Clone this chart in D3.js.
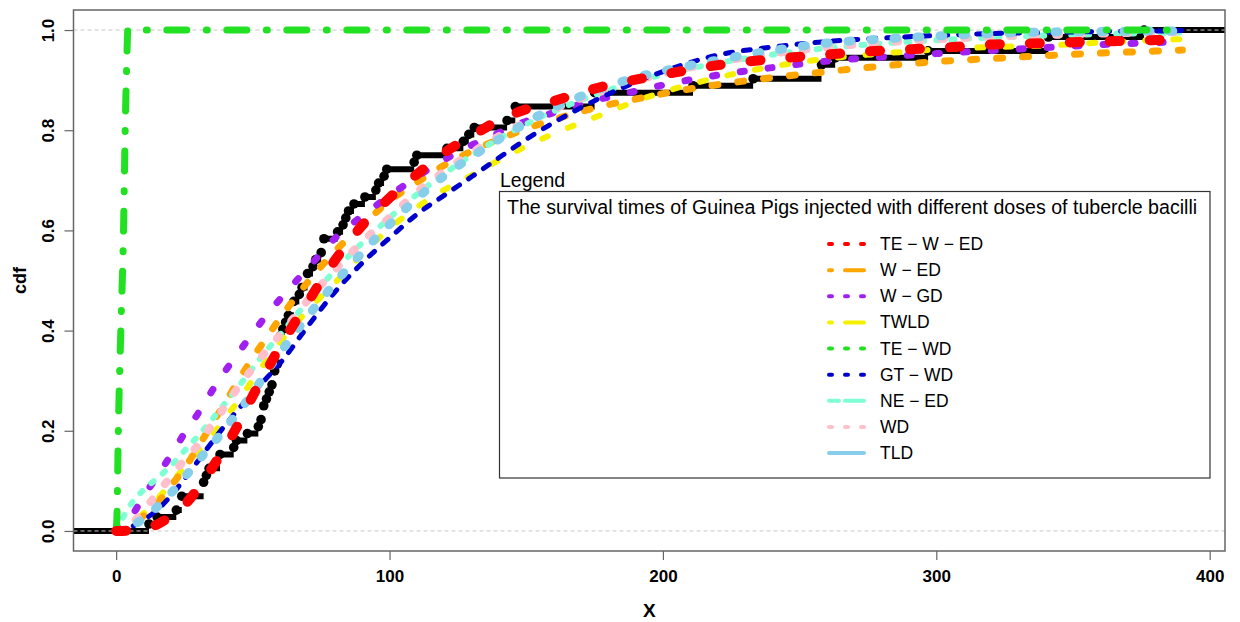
<!DOCTYPE html>
<html>
<head>
<meta charset="utf-8">
<script src="https://cdn.jsdelivr.net/npm/d3@7"></script>
<style>
body { margin: 0; background: #fff; }
text { font-family: "Liberation Sans", Arial, sans-serif; }
</style>
</head>
<body>
<div id="chart"></div>
<script>
// survival times of guinea pigs (empirical sample)
const survival = [12, 15, 22, 24, 24, 32, 32, 33, 34, 38, 38, 43, 44, 48, 52, 53, 54, 54, 55, 56, 57, 58, 58, 59, 60, 60, 60, 60, 61, 62, 63, 65, 65, 67, 68, 70, 70, 72, 73, 75, 76, 76, 81, 83, 84, 85, 87, 91, 95, 96, 98, 99, 109, 110, 121, 127, 129, 131, 143, 146, 146, 175, 175, 211, 233, 258, 258, 263, 297, 341, 341, 376];

const xGrid = [0, 5, 10, 15, 20, 25, 30, 35, 40, 45, 50, 55, 60, 70, 80, 90, 100, 110, 120, 130, 140, 150, 160, 170, 180, 190, 200, 220, 240, 260, 280, 300, 320, 340, 360, 380, 390];

const teWED = [0, 0.001, 0.005, 0.013, 0.03, 0.052, 0.085, 0.125, 0.168, 0.216, 0.27, 0.32, 0.368, 0.456, 0.54, 0.61, 0.665, 0.712, 0.755, 0.788, 0.82, 0.842, 0.858, 0.875, 0.89, 0.901, 0.911, 0.93, 0.942, 0.951, 0.959, 0.964, 0.971, 0.974, 0.977, 0.98, 0.982];
const wED = [0, 0.008, 0.03, 0.055, 0.09, 0.125, 0.168, 0.213, 0.257, 0.303, 0.346, 0.386, 0.425, 0.496, 0.558, 0.61, 0.659, 0.696, 0.73, 0.758, 0.782, 0.803, 0.821, 0.837, 0.851, 0.862, 0.873, 0.891, 0.905, 0.917, 0.928, 0.937, 0.943, 0.949, 0.954, 0.958, 0.96];
const wGD = [0, 0.025, 0.068, 0.11, 0.151, 0.195, 0.235, 0.279, 0.32, 0.358, 0.395, 0.431, 0.463, 0.524, 0.584, 0.629, 0.669, 0.707, 0.741, 0.77, 0.795, 0.818, 0.835, 0.852, 0.866, 0.878, 0.89, 0.91, 0.925, 0.938, 0.946, 0.953, 0.959, 0.965, 0.971, 0.975, 0.977];
const twld = [0, 0.01, 0.035, 0.063, 0.095, 0.127, 0.158, 0.19, 0.226, 0.262, 0.302, 0.34, 0.377, 0.44, 0.495, 0.552, 0.604, 0.646, 0.681, 0.71, 0.74, 0.768, 0.793, 0.815, 0.836, 0.858, 0.876, 0.905, 0.927, 0.943, 0.953, 0.961, 0.966, 0.969, 0.975, 0.98, 0.982];
const gtWD = [0, 0.007, 0.022, 0.042, 0.07, 0.104, 0.14, 0.177, 0.212, 0.245, 0.275, 0.305, 0.335, 0.408, 0.477, 0.535, 0.585, 0.632, 0.67, 0.707, 0.745, 0.782, 0.815, 0.845, 0.872, 0.896, 0.917, 0.95, 0.966, 0.977, 0.984, 0.989, 0.993, 0.995, 0.997, 0.998, 0.999];
const neED = [0, 0.05, 0.082, 0.105, 0.13, 0.16, 0.19, 0.222, 0.256, 0.29, 0.325, 0.36, 0.392, 0.458, 0.52, 0.575, 0.625, 0.672, 0.713, 0.75, 0.783, 0.812, 0.838, 0.86, 0.88, 0.897, 0.911, 0.934, 0.951, 0.964, 0.973, 0.98, 0.985, 0.989, 0.992, 0.994, 0.995];
const wd = [0, 0.012, 0.04, 0.075, 0.108, 0.142, 0.172, 0.212, 0.25, 0.29, 0.325, 0.36, 0.392, 0.46, 0.521, 0.577, 0.626, 0.676, 0.718, 0.755, 0.788, 0.817, 0.842, 0.864, 0.882, 0.899, 0.913, 0.936, 0.953, 0.966, 0.975, 0.982, 0.987, 0.99, 0.993, 0.995, 0.996];
const tld = [0, 0.008, 0.025, 0.048, 0.075, 0.107, 0.14, 0.172, 0.205, 0.24, 0.275, 0.318, 0.356, 0.428, 0.495, 0.556, 0.612, 0.664, 0.709, 0.747, 0.782, 0.815, 0.845, 0.868, 0.888, 0.905, 0.918, 0.94, 0.959, 0.974, 0.982, 0.988, 0.993, 0.996, 0.997, 0.998, 0.998];

// TE-WD jumps almost straight up near zero
const teWDx = [0, 0.3, 0.8, 1.7, 2.7, 3.3, 3.8, 4.3, 390];
const teWD = [0, 0.03, 0.2, 0.4, 0.6, 0.8, 0.92, 1, 1];

const xTicks = [0, 100, 200, 300, 400];
const yTicks = [0, 0.2, 0.4, 0.6, 0.8, 1.0];

const legendNames = ["TE \u2212 W \u2212 ED", "W \u2212 ED", "W \u2212 GD", "TWLD", "TE \u2212 WD", "GT \u2212 WD", "NE \u2212 ED", "WD", "TLD"];
const legendTitle = "The survival times of Guinea Pigs injected with different doses of tubercle bacilli";

// styles for each model: plot stroke + legend stroke
const models = [
  {name: legendNames[0], x: xGrid, y: teWED, color: "#ff0000", w: 10, dash: "10,30", lw: 4, ldash: "3,13"},
  {name: legendNames[1], x: xGrid, y: wED, color: "#ffa500", w: 7, dash: "6,20", lw: 4, ldash: "3,13,19,100"},
  {name: legendNames[2], x: xGrid, y: wGD, color: "#a020f0", w: 7, dash: "4,24", lw: 4, ldash: "3,13"},
  {name: legendNames[3], x: xGrid, y: twld, color: "#f5f000", w: 6, dash: "6,22", lw: 4, ldash: "3,13,19,100"},
  {name: legendNames[4], x: teWDx, y: teWD, color: "#22e022", w: 7, dash: "20,19.5,1,19.5", lw: 4, ldash: "3,13"},
  {name: legendNames[5], x: xGrid, y: gtWD, color: "#0000cd", w: 5, dash: "7,11", lw: 4, ldash: "3,13"},
  {name: legendNames[6], x: xGrid, y: neED, color: "#7fffd4", w: 6, dash: "3,12", lw: 4, ldash: "10,6,20,100"},
  {name: legendNames[7], x: xGrid, y: wd, color: "#ffc0cb", w: 8, dash: "3,20", lw: 4, ldash: "3,13"},
  {name: legendNames[8], x: xGrid, y: tld, color: "#87ceeb", w: 9, dash: "3,20", lw: 4, ldash: null}
];
// draw order in plot (red on top)
const drawOrder = [3, 1, 2, 6, 7, 5, 8, 4, 0];

const W = 1240, H = 622;
const box = {left: 73.5, right: 1225, top: 10, bottom: 551};

const svg = d3.select("#chart").append("svg")
  .attr("width", W)
  .attr("height", H);

const x = d3.scaleLinear().domain([-15.6, 405.6]).range([box.left, box.right]);
const y = d3.scaleLinear().domain([-0.04, 1.04]).range([box.bottom, box.top]);

svg.append("clipPath").attr("id", "plotclip")
  .append("rect")
    .attr("x", box.left).attr("y", box.top)
    .attr("width", box.right - box.left).attr("height", box.bottom - box.top);

const plot = svg.append("g").attr("clip-path", "url(#plotclip)");

// empirical cdf as steps + points
const n = survival.length;
const knots = Array.from(new Set(survival)).sort(d3.ascending);
const Fk = knots.map(v => survival.filter(s => s <= v).length / n);
const steps = [{x0: x.domain()[0], x1: knots[0], f: 0}];
knots.forEach((v, i) => {
  steps.push({x0: v, x1: i < knots.length - 1 ? knots[i + 1] : x.domain()[1], f: Fk[i]});
});

plot.selectAll(".step").data(steps).join("line")
  .attr("class", "step")
  .attr("x1", d => x(d.x0)).attr("x2", d => x(d.x1))
  .attr("y1", d => y(d.f)).attr("y2", d => y(d.f))
  .attr("stroke", "#000")
  .attr("stroke-width", 6);

plot.selectAll(".knot").data(knots).join("circle")
  .attr("class", "knot")
  .attr("cx", d => x(d))
  .attr("cy", (d, i) => y(Fk[i]))
  .attr("r", 4.8)
  .attr("fill", "#000");

// reference lines at 0 and 1
plot.selectAll(".href").data([0, 1]).join("line")
  .attr("class", "href")
  .attr("x1", box.left).attr("x2", box.right)
  .attr("y1", d => y(d)).attr("y2", d => y(d))
  .attr("stroke", "#c8c8c8")
  .attr("stroke-width", 1)
  .attr("stroke-dasharray", "4,3");

// fitted cdfs
const line = d3.line()
  .x(d => x(d[0]))
  .y(d => y(d[1]))
  .curve(d3.curveMonotoneX);

drawOrder.forEach(i => {
  const m = models[i];
  plot.append("path")
    .attr("d", line(m.x.map((v, j) => [v, m.y[j]])))
    .attr("fill", "none")
    .attr("stroke", m.color)
    .attr("stroke-width", m.w)
    .attr("stroke-dasharray", m.dash)
    .attr("stroke-linecap", "round")
    .attr("stroke-linejoin", "round");
});

// box
svg.append("rect")
  .attr("x", box.left).attr("y", box.top)
  .attr("width", box.right - box.left).attr("height", box.bottom - box.top)
  .attr("fill", "none")
  .attr("stroke", "#666")
  .attr("stroke-width", 1.5);

// axes
const xAxis = svg.append("g")
  .attr("transform", "translate(0," + box.bottom + ")")
  .call(d3.axisBottom(x).tickValues(xTicks).tickFormat(d3.format("d")).tickSize(9).tickPadding(10));
xAxis.select(".domain").remove();

const yAxis = svg.append("g")
  .attr("transform", "translate(" + box.left + ",0)")
  .call(d3.axisLeft(y).tickValues(yTicks).tickFormat(d3.format(".1f")).tickSize(9));
yAxis.select(".domain").remove();

[xAxis, yAxis].forEach(g => {
  g.selectAll(".tick line").attr("stroke", "#666").attr("stroke-width", 1.2);
  g.selectAll(".tick text")
    .attr("fill", "#000")
    .style("font-family", "'Liberation Sans', Arial, sans-serif")
    .style("font-size", "17px")
    .style("font-weight", "bold");
});

// rotate y labels like R (las = 0)
yAxis.selectAll(".tick text")
  .attr("x", null).attr("dy", null)
  .attr("text-anchor", "middle")
  .attr("dominant-baseline", "central")
  .attr("transform", "translate(-25,0) rotate(-90)");

svg.append("text")
  .attr("x", (box.left + box.right) / 2)
  .attr("y", 617)
  .attr("text-anchor", "middle")
  .style("font-size", "19px")
  .style("font-weight", "bold")
  .text("X");

svg.append("text")
  .attr("transform", "translate(20," + (box.top + box.bottom) / 2 + ") rotate(-90)")
  .attr("text-anchor", "middle")
  .attr("dominant-baseline", "central")
  .style("font-size", "18px")
  .style("font-weight", "bold")
  .text("cdf");

// legend
const lg = {left: 499.5, top: 191.5, right: 1210, bottom: 478};
svg.append("text")
  .attr("x", 500).attr("y", 187)
  .style("font-size", "19.5px")
  .text("Legend");

svg.append("rect")
  .attr("x", lg.left).attr("y", lg.top)
  .attr("width", lg.right - lg.left).attr("height", lg.bottom - lg.top)
  .attr("fill", "#fff")
  .attr("stroke", "#333")
  .attr("stroke-width", 1.2);

svg.append("text")
  .attr("x", 507).attr("y", 214)
  .style("font-size", "19.6px")
  .text(legendTitle);

const rowY = d3.scaleLinear().domain([0, models.length - 1]).range([244, 453]);

const rows = svg.selectAll(".lrow").data(models).join("g")
  .attr("class", "lrow")
  .attr("transform", (d, i) => "translate(0," + rowY(i) + ")");

rows.append("line")
  .attr("x1", 829).attr("x2", 864)
  .attr("stroke", d => d.color)
  .attr("stroke-width", d => d.lw)
  .attr("stroke-linecap", "round")
  .attr("stroke-dasharray", d => d.ldash);

rows.append("text")
  .attr("x", 880)
  .attr("dominant-baseline", "central")
  .style("font-size", "17.5px")
  .text(d => d.name);
</script>
</body>
</html>
